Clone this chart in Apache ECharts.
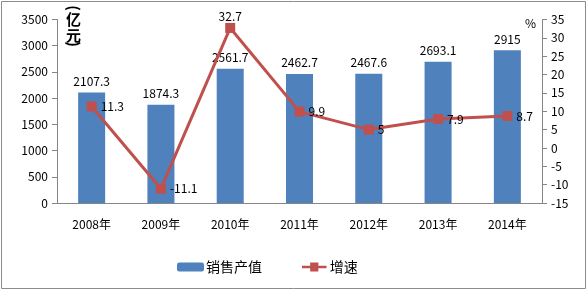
<!DOCTYPE html>
<html><head><meta charset="utf-8">
<script src="https://cdn.jsdelivr.net/npm/echarts@6/dist/echarts.min.js"></script>
<style>html,body{margin:0;padding:0;background:#fff}#c{width:588px;height:291px}</style>
</head><body><div id="c"></div>
<script>
const categories = ['2008年','2009年','2010年','2011年','2012年','2013年','2014年'];
const salesValues = [2107.3, 1874.3, 2561.7, 2462.7, 2467.6, 2693.1, 2915];
const growthRates = [11.3, -11.1, 32.7, 9.9, 5, 7.9, 8.7];
const seriesNames = ['销售产值', '增速'];
const leftUnitChars = ['(', '亿', '元', ')'];
const rightUnit = '%';

const font = '"Noto Sans CJK SC", "DejaVu Sans", sans-serif';
const unitPos = [[74, 8, true], [66, 12, false], [66, 28, false], [74, 44, true]];
const chart = echarts.init(document.getElementById('c'));
chart.setOption({
  animation: false,
  textStyle: { fontFamily: font },
  grid: { left: 57, right: 46, top: 19.5, height: 183.5 },
  legend: {
    data: [seriesNames[0], { name: seriesNames[1], icon: 'path://M0,4 L10,4 L10,0 L20,0 L20,4 L30,4 L30,7 L20,7 L20,11 L10,11 L10,7 L0,7 Z' }],
    left: 172, top: 255, itemGap: 40, itemWidth: 27, itemHeight: 9,
    textStyle: { fontSize: 14, color: '#000', padding: [0, 0, 0, -3] }
  },
  xAxis: {
    type: 'category', data: categories,
    axisLine: { lineStyle: { color: '#868686' } },
    axisTick: { show: false },
    axisLabel: { color: '#000', fontSize: 12, margin: 15, fontFamily: font }
  },
  yAxis: [
    { type: 'value', min: 0, max: 3500, interval: 500,
      axisLine: { show: true, lineStyle: { color: '#868686' } },
      axisTick: { show: true, length: 5, lineStyle: { color: '#868686' } },
      splitLine: { show: false },
      axisLabel: { color: '#000', fontSize: 12, margin: 9, formatter: v => String(v) } },
    { type: 'value', min: -15, max: 35, interval: 5, position: 'right',
      axisLine: { show: true, lineStyle: { color: '#868686' } },
      axisTick: { show: true, length: 5, lineStyle: { color: '#868686' } },
      splitLine: { show: false },
      axisLabel: { color: '#000', fontSize: 12, margin: 9 } }
  ],
  series: [
    { name: seriesNames[0], type: 'bar', data: salesValues, barWidth: '39%',
      itemStyle: { color: '#4F81BD' },
      label: { show: true, position: 'top', color: '#000', fontSize: 12, distance: 5 } },
    { name: seriesNames[1], type: 'line', yAxisIndex: 1,
      data: growthRates.map((v, i) => v === Math.max(...growthRates) ? { value: v, label: { position: 'top', distance: 1 } } : v),
      lineStyle: { color: '#C0504D', width: 3 },
      itemStyle: { color: '#C0504D' },
      symbol: 'rect', symbolSize: 10,
      label: { show: true, position: 'right', color: '#000', fontSize: 12, distance: 4 } }
  ],
  graphic: [
    { type: 'rect', shape: { x: 1.5, y: 1.5, width: 584, height: 287 }, style: { fill: 'none', stroke: '#8c8c8c', lineWidth: 1 }, silent: true }
  ].concat(leftUnitChars.map((ch, i) => ({
    type: 'text', x: unitPos[i][0], y: unitPos[i][1], rotation: unitPos[i][2] ? -Math.PI / 2 : 0,
    style: { text: ch, font: 'bold 15px ' + font, fill: '#000',
      align: unitPos[i][2] ? 'center' : 'left', verticalAlign: unitPos[i][2] ? 'middle' : 'top' }
  }))).concat([
    { type: 'text', left: 525, top: 17, style: { text: rightUnit, font: '12px ' + font, fill: '#000' } }
  ])
});
</script></body></html>
